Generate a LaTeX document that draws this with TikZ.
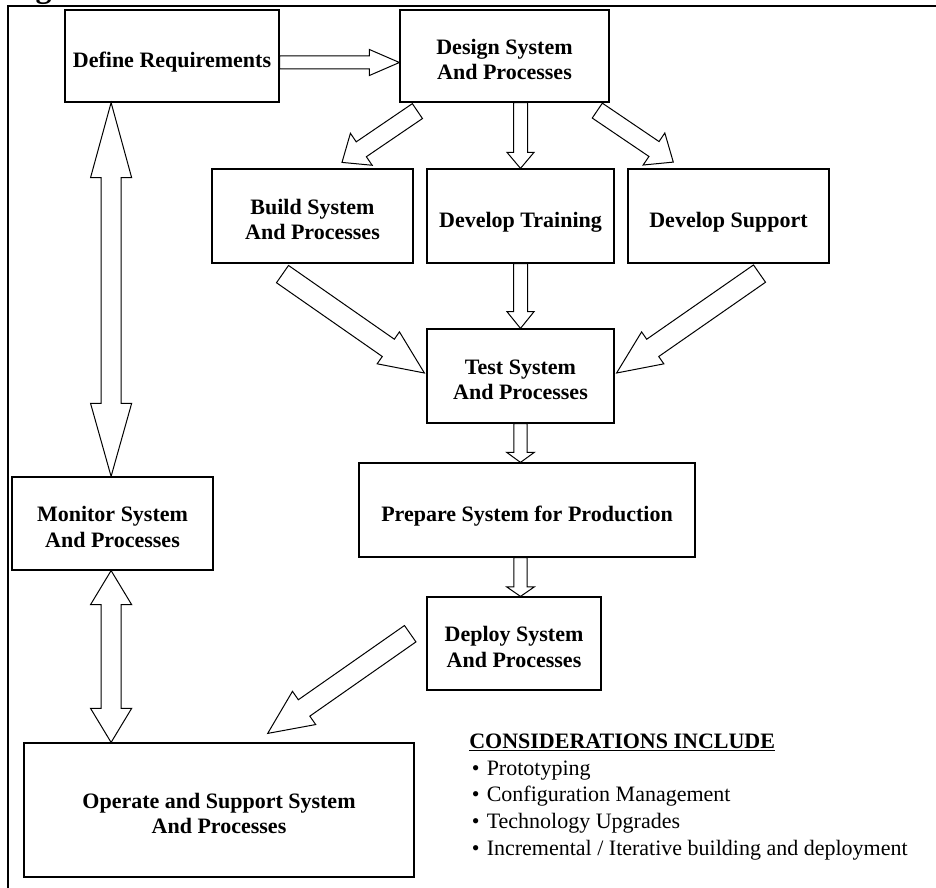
\documentclass[tikz,border=0pt]{standalone}
\usepackage{fontspec}
\setmainfont{Liberation Serif}
\usetikzlibrary{calc}
\tikzset{
  box/.style={draw, line width=0.9pt, fill=white, inner sep=0pt,
    font=\fontsize{16.5}{19}\selectfont\bfseries},
  arrowline/.style={draw, line width=0.75pt, fill=white, line join=miter},
  frameline/.style={line width=1.6pt},
  note/.style={anchor=base west, inner sep=0pt, font=\fontsize{16.5}{19}\selectfont},
}
\newcommand\boxtext[1]{\raisebox{-4.5pt}[\height][\depth]{\begin{tabular}{@{}c@{}}#1\end{tabular}}}
\newcommand\blkarrow[5]{%
  \coordinate (bah) at ($(#2)!#5!(#1)$);
  \path[arrowline] ($(#1)!#3!90:(#2)$) -- ($(bah)!#3!90:(#2)$) -- ($(bah)!#4!90:(#2)$) -- (#2)
    -- ($(bah)!#4!-90:(#2)$) -- ($(bah)!#3!-90:(#2)$) -- ($(#1)!#3!-90:(#2)$) -- cycle;
}
\newcommand\dblarrow[6]{%
  \coordinate (daa) at ($(#1)!#5!(#2)$);
  \coordinate (dab) at ($(#2)!#6!(#1)$);
  \path[arrowline] (#1) -- ($(daa)!#4!90:(#2)$) -- ($(daa)!#3!90:(#2)$) -- ($(dab)!#3!90:(#2)$)
    -- ($(dab)!#4!90:(#2)$) -- (#2) -- ($(dab)!#4!-90:(#2)$) -- ($(dab)!#3!-90:(#2)$)
    -- ($(daa)!#3!-90:(#2)$) -- ($(daa)!#4!-90:(#2)$) -- cycle;
}
\begin{document}
\begin{tikzpicture}[x=0.75pt,y=-0.75pt]
\useasboundingbox (0,0) rectangle (936,888);
\fill[white] (0,0) rectangle (936,888);

% frame
\coordinate (fTL) at (8,6);
\coordinate (fTR) at (936,6);
\coordinate (fBL) at (8,888);
\draw[frameline] (fTR) -- (fTL) -- (fBL);
\node[anchor=base, inner sep=0pt, font=\fontsize{24}{24}\selectfont\bfseries] (gfrag) at (43.5,-2.5) {g};

% boxes
\node[box, minimum width=160.5pt, minimum height=69pt] (define) at (172,56) {\boxtext{Define Requirements}};
\node[box, minimum width=156.75pt, minimum height=69pt] (design) at (504.5,56) {\boxtext{Design System\\And Processes}};
\node[box, minimum width=150.75pt, minimum height=70.5pt] (build) at (312.5,216) {\boxtext{Build System\\And Processes}};
\node[box, minimum width=140.25pt, minimum height=70.5pt] (training) at (520.5,216) {\boxtext{Develop Training}};
\node[box, minimum width=150.75pt, minimum height=70.5pt] (support) at (728.5,216) {\boxtext{Develop Support}};
\node[box, minimum width=140.25pt, minimum height=70.5pt] (test) at (520.5,376) {\boxtext{Test System\\And Processes}};
\node[box, minimum width=252pt, minimum height=70.5pt] (prepare) at (527,510) {\boxtext{Prepare System for Production}};
\node[box, minimum width=130.5pt, minimum height=69.75pt] (deploy) at (514,643.5) {\boxtext{Deploy System\\And Processes}};
\node[box, minimum width=150.75pt, minimum height=69.75pt] (monitor) at (112.5,523.5) {\boxtext{Monitor System\\And Processes}};
\node[box, minimum width=292.5pt, minimum height=100.5pt] (operate) at (219,810) {\boxtext{Operate and Support System\\And Processes}};

% arrow end points
\coordinate (a1t) at ($(define.east)+(0,6.5)$);
\coordinate (a1h) at ($(design.west)+(0,6.5)$);
\coordinate (a2t) at (training.north |- design.south);
\coordinate (a3t) at ($(design.south west)+(18,8.5)$);
\coordinate (a3h) at ($(build.north)+(29.5,-6)$);
\coordinate (a4t) at ($(design.south east)+(-12.3,8)$);
\coordinate (a4h) at ($(support.north)+(-55.2,-6.3)$);
\coordinate (a5t) at ($(build.south)+(-30,10.5)$);
\coordinate (a5h) at ($(test.west)+(-2,-3)$);
\coordinate (a6t) at ($(support.south)+(31,10)$);
\coordinate (a6h) at ($(test.east)+(2,-3)$);
\coordinate (a8h) at (test.south |- prepare.north);
\coordinate (a9t) at (test.south |- prepare.south);
\coordinate (a9h) at (test.south |- deploy.north);
\coordinate (a10t) at ($(deploy.west)+(-16.2,-9.8)$);
\coordinate (a10h) at ($(operate.north)+(48.7,-9)$);
\coordinate (a11a) at ($(define.south west)+(46.7,0)$);
\coordinate (a11b) at (a11a |- monitor.north);
\coordinate (a12a) at (a11a |- monitor.south);
\coordinate (a12b) at (a11a |- operate.north);

% arrows
\blkarrow{a1t}{a1h}{4.875pt}{9.75pt}{22.5pt}
\blkarrow{a2t}{training.north}{5.25pt}{10.1pt}{12pt}
\blkarrow{a3t}{a3h}{6.75pt}{14.5pt}{17.5pt}
\blkarrow{a4t}{a4h}{6.75pt}{14.5pt}{17.5pt}
\blkarrow{a5t}{a5h}{7.9pt}{14.6pt}{33pt}
\blkarrow{a6t}{a6h}{7.9pt}{14.6pt}{33pt}
\blkarrow{training.south}{test.north}{5.25pt}{10.1pt}{12.5pt}
\blkarrow{test.south}{a8h}{5pt}{10.3pt}{7.5pt}
\blkarrow{a9t}{a9h}{5pt}{10.3pt}{7.1pt}
\blkarrow{a10t}{a10h}{7.5pt}{15.2pt}{33.3pt}
\dblarrow{a11a}{a11b}{7.5pt}{15.4pt}{56.25pt}{54.75pt}
\dblarrow{a12a}{a12b}{7.5pt}{15.4pt}{25.5pt}{25.5pt}

% considerations
\node[note, font=\fontsize{16.5}{19}\selectfont\bfseries] (chead) at (469,748.3) {\underline{CONSIDERATIONS INCLUDE}};
\node[note] (c1) at (471.5,775) {\makebox[11.25pt][l]{\textbullet}Prototyping};
\node[note] (c2) at (471.5,801.7) {\makebox[11.25pt][l]{\textbullet}Configuration Management};
\node[note] (c3) at (471.5,828.3) {\makebox[11.25pt][l]{\textbullet}Technology Upgrades};
\node[note] (c4) at (471.5,855) {\makebox[11.25pt][l]{\textbullet}Incremental / Iterative building and deployment};
\end{tikzpicture}
\end{document}
